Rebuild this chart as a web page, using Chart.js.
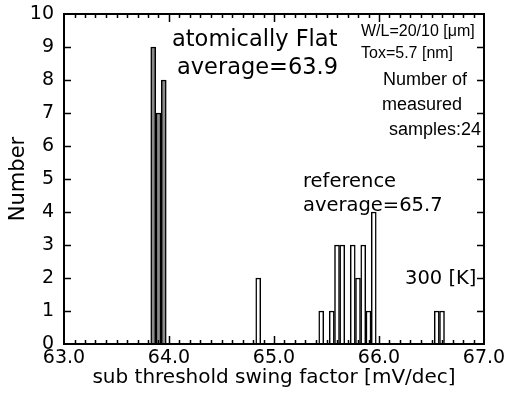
<!DOCTYPE html>
<html>
<head>
<meta charset="utf-8">
<script src="https://cdn.jsdelivr.net/npm/chart.js@4.4.1/dist/chart.umd.min.js"></script>
<style>
html,body{margin:0;padding:0;background:#fff;}
#wrap{width:508px;height:407px;}
</style>
</head>
<body>
<div id="wrap"><canvas id="c" width="508" height="407"></canvas></div>
<script>
// ---- data ----
const flatBins = [63.85, 63.90, 63.95];
const flatCounts = [9, 7, 8];
const refBins = [64.85, 65.45, 65.55, 65.60, 65.65, 65.75, 65.80, 65.85, 65.90, 65.95, 66.55, 66.60];
const refCounts = [2, 1, 1, 3, 3, 3, 2, 3, 1, 4, 1, 1];
const xTickValues = [63, 64, 65, 66, 67];
const yTickValues = [0,1,2,3,4,5,6,7,8,9,10];

const FONT = "'DejaVu Sans', 'Liberation Sans', Arial, sans-serif";
const SANS = "'Liberation Sans', Arial, sans-serif";

// annotations: text, x in data units, baseline y in pixels
const notes = [
  {t:'atomically Flat', x:63.0+(172-64)/105, y:46, f:'22.5px '+FONT},
  {t:'average=63.9', x:63.0+(177-64)/105, y:74, f:'22.5px '+FONT},
  {t:'reference', x:63.0+(303-64)/105, y:187, f:'19.5px '+FONT},
  {t:'average=65.7', x:63.0+(303-64)/105, y:211, f:'19.5px '+FONT},
  {t:'300 [K]', x:63.0+(405-64)/105, y:284, f:'19.5px '+FONT},
  {t:'W/L=20/10 [\u03bcm]', x:63.0+(361-64)/105, y:36, f:'16px '+SANS},
  {t:'Tox=5.7 [nm]', x:63.0+(361-64)/105, y:58, f:'16px '+SANS},
  {t:'Number of', x:63.0+(383-64)/105, y:85, f:'18px '+SANS},
  {t:'measured', x:63.0+(382-64)/105, y:110, f:'18px '+SANS},
  {t:'samples:24', x:63.0+(389-64)/105, y:135, f:'18px '+SANS}
];

const frame = {
  id:'frame',
  afterDraw(chart){
    const {ctx, chartArea:a, scales:{x, y}} = chart;
    ctx.save();
    ctx.strokeStyle = '#000';
    ctx.lineWidth = 2;
    ctx.strokeRect(a.left, a.top, a.right - a.left, a.bottom - a.top);
    ctx.lineWidth = 1.5;
    ctx.beginPath();
    for (let i = 1; i < 40; i++) {
      const v = 63 + i * 0.1;
      const px = Math.round(x.getPixelForValue(v)) + 0.5;
      const len = (i % 10 === 0) ? 8 : 4;
      ctx.moveTo(px, a.bottom); ctx.lineTo(px, a.bottom - len);
      ctx.moveTo(px, a.top); ctx.lineTo(px, a.top + len);
    }
    for (const v of yTickValues) {
      if (v === 0 || v === 10) continue;
      const py = Math.round(y.getPixelForValue(v)) + 0.5;
      ctx.moveTo(a.left, py); ctx.lineTo(a.left + 7, py);
      ctx.moveTo(a.right, py); ctx.lineTo(a.right - 7, py);
    }
    ctx.stroke();
    ctx.fillStyle = '#000';
    ctx.textBaseline = 'alphabetic';
    ctx.textAlign = 'left';
    for (const n of notes) {
      ctx.font = n.f;
      ctx.fillText(n.t, x.getPixelForValue(n.x), n.y);
    }
    ctx.restore();
  }
};

new Chart(document.getElementById('c'), {
  type: 'bar',
  data: {
    datasets: [
      {
        label: 'atomically Flat',
        data: flatBins.map((b, i) => ({x: b, y: flatCounts[i]})),
        backgroundColor: '#8a8a8a',
        borderColor: '#000',
        borderWidth: 1.5,
        barThickness: 5,
        grouped: false
      },
      {
        label: 'reference',
        data: refBins.map((b, i) => ({x: b, y: refCounts[i]})),
        backgroundColor: '#ffffff',
        borderColor: '#000',
        borderWidth: 1.5,
        barThickness: 5,
        grouped: false
      }
    ]
  },
  options: {
    responsive: false,
    animation: false,
    layout: {padding: {left: 0, right: 24, top: 14, bottom: 0}},
    plugins: {legend: {display: false}, tooltip: {enabled: false}},
    scales: {
      x: {
        type: 'linear',
        min: 63, max: 67,
        offset: false,
        grid: {display: false, offset: false, drawTicks: false},
        border: {display: false},
        afterBuildTicks(s){ s.ticks = xTickValues.map(v => ({value: v})); },
        afterFit(s){ s.height = 63; s.paddingLeft = 0; s.paddingRight = 0; },
        ticks: {
          color: '#000',
          padding: 3,
          maxRotation: 0,
          autoSkip: false,
          font: {family: FONT, size: 19},
          callback: v => Number(v).toFixed(1)
        },
        title: {
          display: true,
          text: 'sub threshold swing factor [mV/dec]',
          color: '#000',
          font: {family: FONT, size: 20},
          padding: {top: 0, bottom: 17}
        }
      },
      y: {
        min: 0, max: 10,
        grid: {display: false, drawTicks: false},
        border: {display: false},
        afterBuildTicks(s){ s.ticks = yTickValues.map(v => ({value: v})); },
        afterFit(s){ s.width = 64; s.paddingTop = 0; s.paddingBottom = 0; },
        ticks: {
          color: '#000',
          padding: 10,
          autoSkip: false,
          font: {family: FONT, size: 19}
        },
        title: {
          display: true,
          text: 'Number',
          color: '#000',
          font: {family: FONT, size: 21},
          padding: {top: 6, bottom: 0}
        }
      }
    }
  },
  plugins: [frame]
});
</script>
</body>
</html>
